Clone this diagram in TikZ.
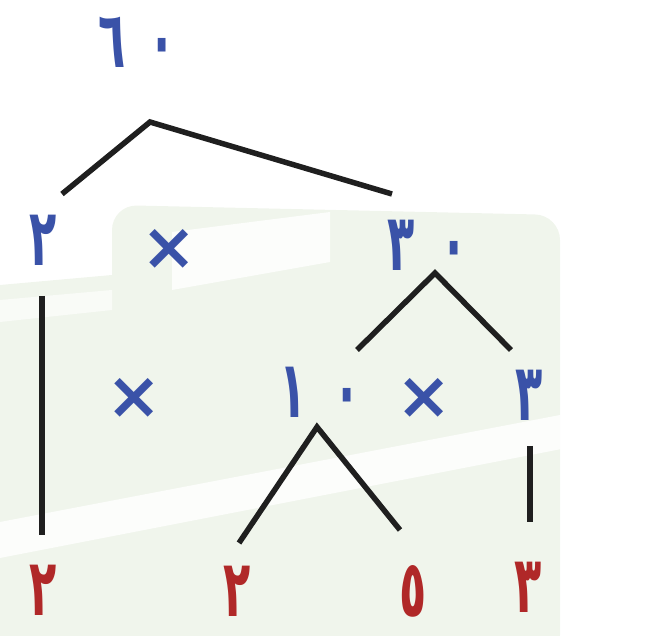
\documentclass[tikz,border=0pt]{standalone}
\usepackage{fontspec}
\usepackage{graphicx}
\newfontfamily\arabicfont[Script=Arabic]{DejaVu Sans}
\newfontfamily\symfont{DejaVu Sans}
\definecolor{numblue}{RGB}{58,82,168}
\definecolor{numred}{RGB}{176,40,40}
\definecolor{wash}{RGB}{240,245,236}
% tall, narrow digits
\newcommand{\tallnum}[1]{\scalebox{0.72}[1.28]{#1}}
\tikzset{
  num/.style={font=\arabicfont\bfseries\fontsize{62}{62}\selectfont, text=numblue, inner sep=0pt},
  prime/.style={num, text=numred},
  times/.style={font=\symfont\bfseries\fontsize{66}{66}\selectfont, text=numblue, inner sep=0pt},
  branch/.style={line width=5.5pt, line cap=butt, line join=miter, draw=black!88}
}
\begin{document}
\begin{tikzpicture}[x=1pt,y=-1pt]
\useasboundingbox (0,0) rectangle (649,636);
% faint background wash
\fill[wash, rounded corners=25pt] (112,205) -- (560,215) -- (560,660) -- (112,660) -- cycle;
\fill[wash] (0,285) -- (112,275) -- (112,636) -- (0,636) -- cycle;
\fill[white, opacity=0.8] (172,232) -- (330,212) -- (330,262) -- (172,290) -- cycle;
\fill[white, opacity=0.8] (0,522) -- (649,398) -- (649,432) -- (0,558) -- cycle;
\fill[white, opacity=0.6] (0,300) -- (112,290) -- (112,310) -- (0,322) -- cycle;

% numbers
\node[num]   (n60) at (137,42)  {\tallnum{٦\hspace{32pt}٠}};
\node[num]   (n2)  at (43,240)  {\tallnum{٢}};
\node[times] (m1)  at (169,249) {×};
\node[num]   (n30) at (428,245) {\tallnum{٣\hspace{36pt}٠}};
\node[times] (m2)  at (134,398) {×};
\node[num]   (n10) at (320,392) {\tallnum{١\hspace{38pt}٠}};
\node[times] (m3)  at (424,398) {×};
\node[num]   (n3)  at (529,395) {\tallnum{٣}};
\node[prime] (p2a) at (43,590)  {\tallnum{٢}};
\node[prime] (p2b) at (237,591) {\tallnum{٢}};
\node[prime] (p5)  at (413,591) {\tallnum{٥}};
\node[prime] (p3)  at (528,587) {\tallnum{٣}};

% branch joints
\coordinate (a60) at (150,122);
\coordinate (l60) at (62,194);
\coordinate (r60) at (392,194);
\coordinate (a30) at (435,273);
\coordinate (l30) at (357,350);
\coordinate (r30) at (511,350);
\coordinate (a10) at (317,427);
\coordinate (l10) at (239,543);
\coordinate (r10) at (400,530);
\coordinate (t2)  at (42,296);
\coordinate (b2)  at (42,535);
\coordinate (t3)  at (530,446);
\coordinate (b3)  at (530,522);

\draw[branch] (l60) -- (a60) -- (r60);
\draw[branch] (l30) -- (a30) -- (r30);
\draw[branch] (l10) -- (a10) -- (r10);
\draw[branch] (t2) -- (b2);
\draw[branch] (t3) -- (b3);
\end{tikzpicture}
\end{document}
